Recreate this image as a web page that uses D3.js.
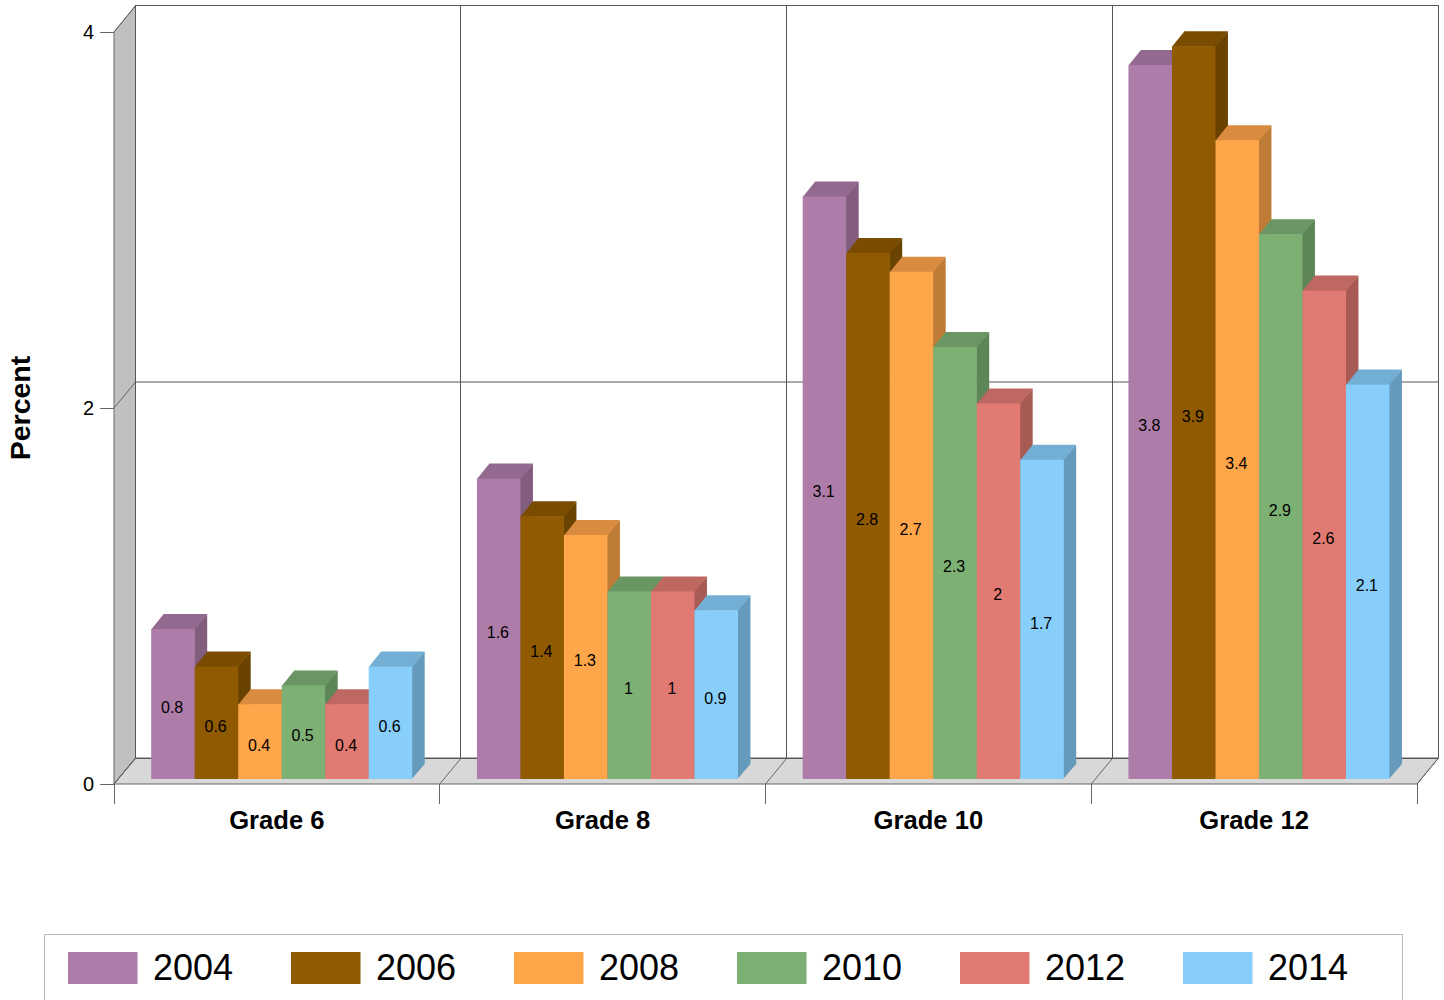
<!DOCTYPE html>
<html><head><meta charset="utf-8">
<script src="https://cdnjs.cloudflare.com/ajax/libs/d3/7.8.5/d3.min.js"></script>
<style>html,body{margin:0;padding:0;background:#fff;overflow:hidden}svg{display:block}text{font-family:"Liberation Sans",Arial,sans-serif;fill:#000}</style>
</head><body><svg id="c" width="1444" height="1000"></svg>
<script>
const categories = ["Grade 6","Grade 8","Grade 10","Grade 12"];
const years = ["2004","2006","2008","2010","2012","2014"];
const v2004 = [0.8,1.6,3.1,3.8];
const v2006 = [0.6,1.4,2.8,3.9];
const v2008 = [0.4,1.3,2.7,3.4];
const v2010 = [0.5,1,2.3,2.9];
const v2012 = [0.4,1,2,2.6];
const v2014 = [0.6,0.9,1.7,2.1];
const seriesValues = [v2004,v2006,v2008,v2010,v2012,v2014];
const colors = ["#AE7CA8","#8F5A00","#FFA54A","#7DB174","#E07A72","#87CEFA"];
const yTicks = [0,2,4];

const svg = d3.select("#c");
const L=114,R=1417,T=32,B=784,DX=21.5,DY=26;
const x = d3.scaleBand().domain(categories).range([L,R]).paddingInner(0).paddingOuter(0);
const y = d3.scaleLinear().domain([0,4]).range([B,T]);
const yBack = d3.scaleLinear().domain([0,4]).range([758.5,5.5]);
const inner = d3.scaleBand().domain(years).range([37.2,298.2]);
const color = d3.scaleOrdinal(years,colors);
const bdx=12.5,bdy=15,bOff=4.6;
const snap=v=>Math.floor(v)+.5;

// wall & floor
svg.append("path").attr("d",`M${L},${B}L${L+DX},${B-DY}L${L+DX},${T-DY}L${L},${T}Z`).attr("fill","#C0C0C0").attr("stroke","#666").attr("stroke-width",1);
svg.append("path").attr("d",`M${L},${B}L${R},${B}L${R+DX},${B-DY}L${L+DX},${B-DY}Z`).attr("fill","#D8D8D8").attr("stroke","#666").attr("stroke-width",1);
// back gridlines and their continuation across the wall
svg.append("g").selectAll("line").data(yTicks).join("line")
 .attr("x1",L+DX).attr("x2",R+DX).attr("y1",d=>yBack(d)).attr("y2",d=>yBack(d)).attr("stroke","#555").attr("stroke-width",1);
svg.append("g").selectAll("line").data(yTicks).join("line")
 .attr("x1",L).attr("x2",L+DX).attr("y1",d=>y(d)).attr("y2",d=>yBack(d)).attr("stroke","#666").attr("stroke-width",1);
const divs=[...categories.map(c=>x(c)),R];
svg.append("g").selectAll("line").data(divs).join("line")
 .attr("x1",d=>snap(d+DX-.5)).attr("x2",d=>snap(d+DX-.5)).attr("y1",T-DY-1).attr("y2",B-DY).attr("stroke","#555").attr("stroke-width",1);
// floor diagonals & x ticks
svg.append("g").selectAll("line").data(divs).join("line")
 .attr("x1",d=>d).attr("x2",d=>d+DX).attr("y1",B).attr("y2",B-DY).attr("stroke","#666").attr("stroke-width",1);
svg.append("g").selectAll("line").data(divs).join("line")
 .attr("x1",d=>snap(d)).attr("x2",d=>snap(d)).attr("y1",B).attr("y2",B+20).attr("stroke","#666").attr("stroke-width",1);
// y ticks
svg.append("g").selectAll("line").data(yTicks).join("line")
 .attr("x1",L-14).attr("x2",L).attr("y1",d=>y(d)+.5).attr("y2",d=>y(d)+.5).attr("stroke","#666").attr("stroke-width",1);
svg.append("g").selectAll("text").data(yTicks).join("text")
 .attr("x",94).attr("y",d=>y(d)+7).attr("text-anchor","end").attr("font-size",20).text(d=>d);

// bars
const bars=[];
categories.forEach((c,ci)=>years.forEach((yr,si)=>bars.push({c,yr,v:seriesValues[si][ci]})));
const groups=svg.append("g").selectAll("g").data(bars).join("g");
groups.append("path").attr("fill",d=>d3.color(color(d.yr)).darker(.807)).attr("d",d=>{
 const x1=x(d.c)+inner(d.yr)+inner.bandwidth(),t=y(d.v)-bOff,b=y(0)-5;
 return `M${x1-.5},${t}L${x1+bdx},${t-bdy}L${x1+bdx},${b-bdy}L${x1-.5},${b}Z`;});
groups.append("path").attr("fill",d=>d3.color(color(d.yr)).darker(.456)).attr("d",d=>{
 const x0=x(d.c)+inner(d.yr),x1=x0+inner.bandwidth(),t=y(d.v)-bOff;
 return `M${x0},${t+.5}L${x0+bdx},${t-bdy}L${x1+bdx},${t-bdy}L${x1},${t+.5}Z`;});
groups.append("rect").attr("fill",d=>color(d.yr))
 .attr("x",d=>x(d.c)+inner(d.yr)).attr("width",inner.bandwidth())
 .attr("y",d=>y(d.v)-bOff).attr("height",d=>y(0)-y(d.v)-.4);
groups.append("text").attr("text-anchor","middle").attr("font-size",16)
 .attr("x",d=>x(d.c)+inner(d.yr)+inner.bandwidth()/2-.8)
 .attr("y",d=>(y(d.v)+y(0))/2-5+9.4).text(d=>d.v);

// category labels
svg.append("g").selectAll("text").data(categories).join("text")
 .attr("x",d=>x(d)+x.bandwidth()/2).attr("y",828.5).attr("text-anchor","middle")
 .attr("font-size",25.6).attr("font-weight","bold").text(d=>d);
// axis title
svg.append("text").attr("transform","translate(30,408) rotate(-90)").attr("text-anchor","middle")
 .attr("font-size",28.5).attr("font-weight","bold").text("Percent");
// legend
svg.append("rect").attr("x",44.5).attr("y",934.5).attr("width",1358).attr("height",80).attr("fill","#fff").attr("stroke","#bbb");
const lx=d3.scalePoint().domain(years).range([68,68+223*5]);
const lg=svg.append("g").selectAll("g").data(years).join("g");
lg.append("rect").attr("x",d=>lx(d)).attr("y",952).attr("width",69.5).attr("height",32).attr("fill",d=>color(d));
lg.append("text").attr("x",d=>lx(d)+85).attr("y",980).attr("font-size",36).text(d=>d);
</script></body></html>
